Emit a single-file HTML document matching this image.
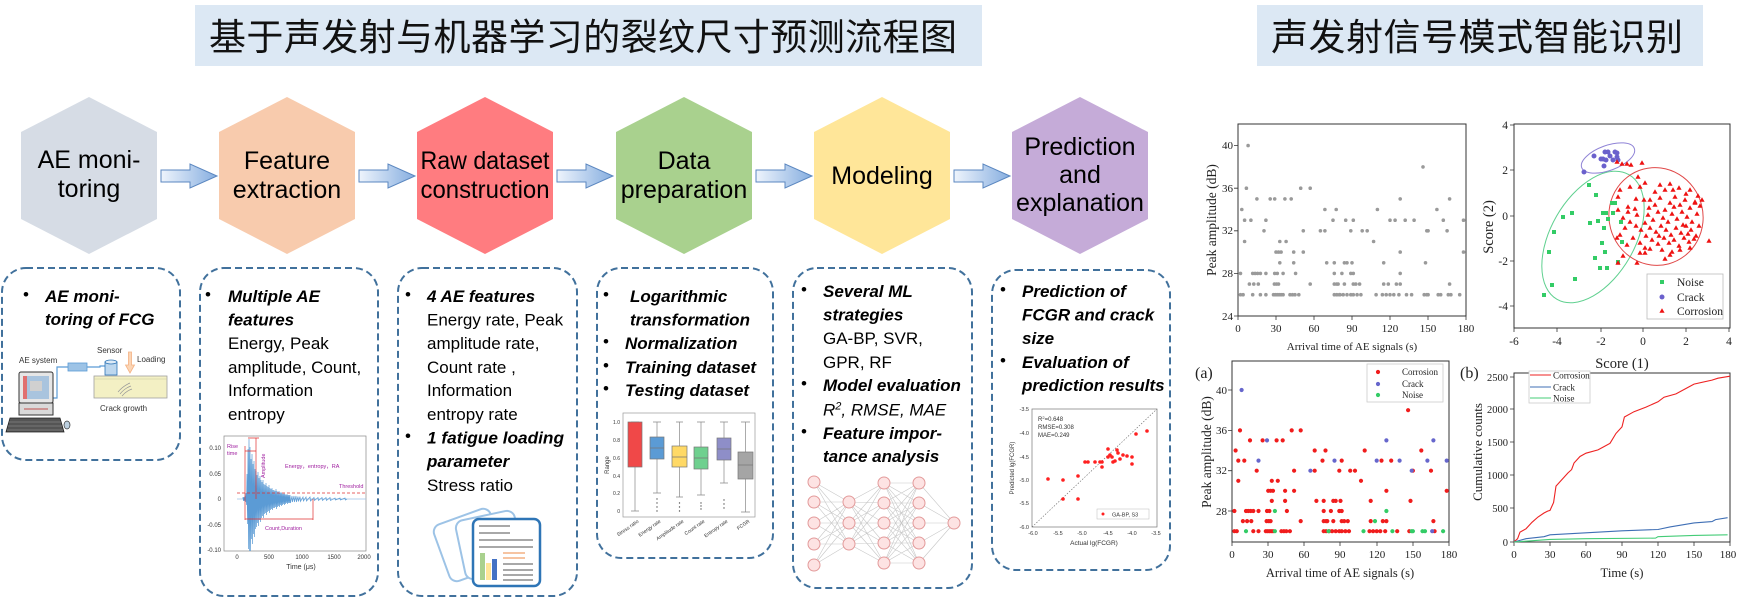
<!DOCTYPE html>
<html><head><meta charset="utf-8"><style>
html,body{margin:0;padding:0;background:#fff;}
svg{display:block;}
.hx{font-family:"Liberation Sans",sans-serif;font-size:25px;fill:#000;text-anchor:middle;}
.bt{font-family:"Liberation Sans",sans-serif;font-size:17px;fill:#000;}
.bi{font-weight:bold;font-style:italic;}
.sf{font-family:"Liberation Serif",serif;fill:#222;}
.sm{font-family:"Liberation Sans",sans-serif;fill:#333;}
</style></head><body>
<svg width="1740" height="599" viewBox="0 0 1740 599" xmlns="http://www.w3.org/2000/svg">
<defs>
<linearGradient id="ag" x1="0" y1="0" x2="1" y2="0"><stop offset="0" stop-color="#eef4fc"/><stop offset="1" stop-color="#86aee0"/></linearGradient>
</defs>
<rect width="1740" height="599" fill="#fff"/>

<!-- Titles -->
<rect x="195" y="5" width="787" height="61" fill="#dce8f4"/>
<text x="209" y="50" font-family="'Liberation Sans','Noto Sans CJK SC',sans-serif" font-size="37" fill="#111" textLength="748" lengthAdjust="spacing">基于声发射与机器学习的裂纹尺寸预测流程图</text>
<rect x="1257" y="5" width="446" height="61" fill="#dce8f4"/>
<text x="1271" y="50" font-family="'Liberation Sans','Noto Sans CJK SC',sans-serif" font-size="37" fill="#111" textLength="412" lengthAdjust="spacing">声发射信号模式智能识别</text>

<!-- Hexagons -->
<polygon points="89,97 157,132 157,219 89,254 21,219 21,132" fill="#d6dce5"/>
<polygon points="287,97 355,132 355,219 287,254 219,219 219,132" fill="#f8cbad"/>
<polygon points="485,97 553,132 553,219 485,254 417,219 417,132" fill="#ff7c80"/>
<polygon points="684,97 752,132 752,219 684,254 616,219 616,132" fill="#a9d18e"/>
<polygon points="882,97 950,132 950,219 882,254 814,219 814,132" fill="#ffe699"/>
<polygon points="1080,97 1148,132 1148,219 1080,254 1012,219 1012,132" fill="#c5abd8"/>

<text class="hx" x="89" y="168">AE moni-</text>
<text class="hx" x="89" y="197">toring</text>
<text class="hx" x="287" y="169">Feature</text>
<text class="hx" x="287" y="198">extraction</text>
<text class="hx" x="485" y="169" textLength="129" lengthAdjust="spacingAndGlyphs">Raw dataset</text>
<text class="hx" x="485" y="198" textLength="129" lengthAdjust="spacingAndGlyphs">construction</text>
<text class="hx" x="684" y="169">Data</text>
<text class="hx" x="684" y="198">preparation</text>
<text class="hx" x="882" y="184">Modeling</text>
<text class="hx" x="1080" y="155">Prediction</text>
<text class="hx" x="1080" y="183">and</text>
<text class="hx" x="1080" y="211">explanation</text>

<!-- Arrows -->
<g fill="url(#ag)" stroke="#5b87c0" stroke-width="1">
<path d="M161,170 H190 V164 L217,176 L190,188 V182 H161 Z"/>
<path d="M359,170 H388 V164 L415,176 L388,188 V182 H359 Z"/>
<path d="M557,170 H586 V164 L613,176 L586,188 V182 H557 Z"/>
<path d="M756,170 H785 V164 L812,176 L785,188 V182 H756 Z"/>
<path d="M954,170 H983 V164 L1010,176 L983,188 V182 H954 Z"/>
</g>

<!-- Dashed boxes -->
<g fill="none" stroke="#41719c" stroke-width="2" stroke-dasharray="7,4">
<rect x="2" y="268" width="178" height="192" rx="24"/>
<rect x="200" y="268" width="178" height="328" rx="24"/>
<rect x="398" y="268" width="179" height="328" rx="24"/>
<rect x="597" y="268" width="176" height="290" rx="24"/>
<rect x="793" y="268" width="179" height="320" rx="24"/>
<rect x="992" y="270" width="178" height="300" rx="24"/>
</g>

<!-- Box 1 text -->
<text class="bt" x="23" y="300">•</text>
<text class="bt bi" x="45" y="302">AE moni-</text>
<text class="bt bi" x="45" y="325">toring of FCG</text>
<!-- Box1 illustration -->
<g>
<text class="sm" x="19" y="363" font-size="8">AE system</text>
<text class="sm" x="97" y="353" font-size="8">Sensor</text>
<text class="sm" x="137" y="362" font-size="8">Loading</text>
<text class="sm" x="100" y="411" font-size="8">Crack growth</text>
<polyline points="53,398 57,398 57,367 68,367" fill="none" stroke="#5b9bd5" stroke-width="1.2"/>
<polyline points="87,367 100,367 100,366 105,366" fill="none" stroke="#5b9bd5" stroke-width="1.2"/>
<rect x="68" y="363" width="19" height="8" fill="#9dc3e6" stroke="#5b9bd5" stroke-width="0.8"/>
<rect x="94" y="376" width="73" height="22" fill="#f3f0c4" stroke="#a0a0a0" stroke-width="0.8"/>
<line x1="94" y1="379" x2="167" y2="379" stroke="#c9c69a" stroke-width="0.6"/>
<path d="M118,392 q5,-6 12,-9 M120,394 q5,-6 11,-8 M122,396 q4,-5 10,-7" fill="none" stroke="#999" stroke-width="0.7"/>
<rect x="105" y="362" width="12" height="13" fill="#bdd7ee" stroke="#2e75b6" stroke-width="0.8"/>
<ellipse cx="111" cy="362" rx="6" ry="2" fill="#deebf7" stroke="#2e75b6" stroke-width="0.8"/>
<path d="M128.5,352 h3 v13 h3 l-4.5,8 l-4.5,-8 h3 z" fill="#fbd5b5" stroke="#f4b183" stroke-width="0.8"/>
<rect x="19" y="372" width="34" height="31" rx="2" fill="#e6e6e6" stroke="#333" stroke-width="1"/>
<rect x="23" y="376" width="26" height="23" fill="#a9c4de"/>
<rect x="23" y="376" width="4" height="23" fill="#e07070"/>
<rect x="30" y="381" width="12" height="10" fill="#d0d0d0"/>
<rect x="19" y="403" width="34" height="12" fill="#d9d9d9" stroke="#333" stroke-width="1"/>
<line x1="24" y1="409" x2="48" y2="409" stroke="#c0504d" stroke-width="1"/>
<polygon points="10,418 60,418 64,432 6,432" fill="#555" stroke="#222" stroke-width="0.8"/>
<path d="M9,422 h52 M8,426 h54 M7,430 h56" stroke="#999" stroke-width="0.5"/>
<ellipse cx="67" cy="425" rx="3" ry="4" fill="#bcd0e0" stroke="#333" stroke-width="0.7"/>
</g>

<!-- Box 2 text -->
<text class="bt" x="205" y="300">•</text>
<text class="bt bi" x="228" y="302">Multiple AE</text>
<text class="bt bi" x="228" y="325.6">features</text>
<text class="bt" x="228" y="349">Energy, Peak</text>
<text class="bt" x="228" y="373">amplitude, Count,</text>
<text class="bt" x="228" y="396">Information</text>
<text class="bt" x="228" y="420">entropy</text>
<!-- waveform chart -->
<g>
<rect x="224" y="436" width="142" height="115" fill="#fff" stroke="#888" stroke-width="0.7"/>
<line x1="237" y1="499" x2="366" y2="499" stroke="#9dc3e6" stroke-width="0.8"/>
<path fill="none" stroke="#5b9bd5" stroke-width="0.7" d="M243,499 L243,497 L243.5,501 L244,497 L244.5,501 L245,496 L245.5,502 L246,493 L246.5,505 L247,474 L247.5,524 L248,449 L248.5,549 L249,439 L249.5,551 L250,447 L250.5,551 L251,459 L251.5,539 L252,454 L252.5,544 L253,464 L253.5,534 L254,461 L254.5,537 L255,469 L255.5,529 L256,471 L256.5,527 L257,475 L257.5,523 L258,472 L258.5,526 L259,478 L259.5,520 L260,476 L260.5,522 L261,480 L261.5,518 L262,482 L262.5,516 L263,480 L263.5,518 L264,484 L264.5,514 L265,485 L265.5,513 L266,483 L266.5,515 L267,486 L267.5,512 L268,487 L268.5,511 L269,485 L269.5,513 L270,488 L270.5,510 L271,489 L271.5,509 L272,488 L272.5,510 L273,490 L273.5,508 L274,490 L274.5,508 L275,491 L275.5,507 L276,489 L276.5,509 L277,491 L277.5,507 L278,492 L278.5,506 L279,491 L279.5,507 L280,493 L280.5,505 L281,492 L281.5,506 L282,493 L282.5,505 L283,494 L283.5,504 L284,493 L284.5,505 L285,494 L285.5,504 L286,495 L286.5,503 L287,494 L287.5,504 L288,495 L288.5,503 L289,495 L289.5,503 L290,495 L290.5,503 L292,496 L292.5,502 L294,496 L294.5,502 L296,496 L296.5,502 L298,496.5 L298.5,501.5 L300,496.5 L300.5,501.5 L303,497 L303.5,501 L306,497 L306.5,501 L310,497 L310.5,501 L314,497.5 L314.5,500.5 L318,497.5 L318.5,500.5 L322,497.5 L322.5,500.5 L326,497.5 L326.5,500.5 L330,497.5 L330.5,500.5 L335,498 L335.5,500 L340,498 L340.5,500 L345,498 L345.5,500 L347,499"/>
<line x1="237" y1="493" x2="366" y2="493" stroke="#e03030" stroke-width="0.7" stroke-dasharray="3,2"/>
<g stroke="#e03030" stroke-width="0.7" fill="none">
<path d="M245,446 V520 M256,438 V499 M248,438 H259 M245,451 H256 M245,519 H313 M313,499 V520"/>
</g>
<g font-family="'Liberation Sans','Noto Sans CJK SC',sans-serif" font-size="5.5" fill="#a020a0">
<text x="227" y="448">Rise</text><text x="227" y="455">time</text>
<text transform="translate(265,478) rotate(-90)">Amplitude</text>
<text x="285" y="468">Energy，entropy，RA</text>
<text x="339" y="488">Threshold</text>
<text x="265" y="530">Count,Duration</text>
</g>
<g class="sm" font-size="6" text-anchor="end">
<text x="221" y="450">0.10</text><text x="221" y="476">0.05</text><text x="221" y="501">0</text><text x="221" y="527">-0.05</text><text x="221" y="552">-0.10</text>
</g>
<g class="sm" font-size="6" text-anchor="middle">
<text x="237" y="559">0</text><text x="269" y="559">500</text><text x="302" y="559">1000</text><text x="334" y="559">1500</text><text x="364" y="559">2000</text>
<text x="301" y="569" font-size="7">Time (μs)</text>
</g>
</g>

<!-- Box 3 text -->
<text class="bt" x="405" y="300">•</text>
<text class="bt bi" x="427" y="302">4 AE features</text>
<text class="bt" x="427" y="325.6">Energy rate, Peak</text>
<text class="bt" x="427" y="349">amplitude rate,</text>
<text class="bt" x="427" y="373">Count rate ,</text>
<text class="bt" x="427" y="396">Information</text>
<text class="bt" x="427" y="420">entropy rate</text>
<text class="bt" x="405" y="441.5">•</text>
<text class="bt bi" x="427" y="443.5" textLength="137" lengthAdjust="spacingAndGlyphs">1 fatigue loading</text>
<text class="bt bi" x="427" y="467">parameter</text>
<text class="bt" x="427" y="491">Stress ratio</text>
<!-- doc icon -->
<rect x="-30" y="-30" width="60" height="60" rx="8" transform="translate(470,545) rotate(-20)" fill="#fff" stroke="#9dc3e6" stroke-width="2"/>
<rect x="-30" y="-30" width="60" height="60" rx="8" transform="translate(490,545) rotate(-12)" fill="#fff" stroke="#9dc3e6" stroke-width="2"/>
<rect x="473" y="519" width="67" height="67" rx="6" fill="#fff" stroke="#2e75b6" stroke-width="2.5"/>
<g stroke-width="1.6">
<path d="M479,526 H510 M479,533 H510 M479,540 H533 M479,547 H533" stroke="#8c8c8c"/>
<path d="M503,553 H525 M503,558 H525" stroke="#f4b183"/>
<path d="M503,564 H533 M503,570 H533 M503,575 H533 M503,580 H533" stroke="#8c8c8c"/>
</g>
<rect x="480" y="553" width="5" height="27" fill="#a9d18e"/>
<rect x="486" y="563" width="5" height="17" fill="#ffe699"/>
<rect x="492" y="559" width="5" height="21" fill="#4472c4"/>

<!-- Box 4 text -->
<text class="bt" x="603" y="300">•</text>
<text class="bt bi" x="630" y="302">Logarithmic</text>
<text class="bt bi" x="630" y="325.6">transformation</text>
<text class="bt" x="603" y="347">•</text>
<text class="bt bi" x="625" y="349">Normalization</text>
<text class="bt" x="603" y="371">•</text>
<text class="bt bi" x="625" y="373">Training dataset</text>
<text class="bt" x="603" y="394">•</text>
<text class="bt bi" x="625" y="396">Testing dataset</text>
<!-- boxplot -->
<g>
<rect x="623" y="413" width="132" height="104" fill="#fff" stroke="#999" stroke-width="0.7"/>
<g stroke="#888" stroke-width="0.7">
<path d="M635,467 V511 M631,511 H639 M631,422 H639"/>
<path d="M657,422 V437 M657,459 V493 M653,422 H661 M653,493 H661"/>
<path d="M679.5,422 V446 M679.5,467 V497 M676,422 H683 M676,497 H683"/>
<path d="M701,422 V447 M701,469 V495 M697,422 H705 M697,495 H705"/>
<path d="M724,422 V438 M724,460 V483 M720,422 H728 M720,483 H728"/>
<path d="M745.5,422 V452 M745.5,479 V512 M741,422 H750 M741,512 H750"/>
</g>
<g stroke="#777" stroke-width="0.7">
<rect x="628" y="422" width="14" height="45" fill="#f04848"/>
<rect x="650" y="437" width="14" height="22" fill="#5b9bd5"/>
<rect x="672" y="446" width="15" height="21" fill="#ffd966"/>
<rect x="694" y="447" width="14" height="22" fill="#6fd08f"/>
<rect x="717" y="438" width="14" height="22" fill="#8e8ec8"/>
<rect x="738" y="452" width="15" height="27" fill="#a5a5a5"/>
<path d="M650,448 H664 M672,457 H687 M694,458 H708 M717,449 H731 M738,465 H753" fill="none"/>
</g>
<path d="M657,499h0 M657,503h0 M657,507h0 M657,511h0 M679.5,503h0 M679.5,507h0 M679.5,511h0 M701,503h0 M701,506h0 M701,509h0 M724,500h0 M724,504h0 M724,508h0" stroke="#555" stroke-width="1.4" stroke-linecap="round"/>
<g class="sm" font-size="5" text-anchor="end">
<text x="620" y="424">1.0</text><text x="620" y="442">0.8</text><text x="620" y="460">0.6</text><text x="620" y="478">0.4</text><text x="620" y="495">0.2</text><text x="620" y="513">0</text>
</g>
<text class="sm" font-size="6" text-anchor="middle" transform="translate(609,465) rotate(-90)">Range</text>
<g class="sm" font-size="5" text-anchor="end">
<text transform="translate(639,522) rotate(-35)">Stress ratio</text>
<text transform="translate(661,522) rotate(-35)">Energy rate</text>
<text transform="translate(684,522) rotate(-35)">Amplitude rate</text>
<text transform="translate(705,522) rotate(-35)">Count rate</text>
<text transform="translate(728,522) rotate(-35)">Entropy rate</text>
<text transform="translate(750,522) rotate(-35)">FCGR</text>
</g>
</g>

<!-- Box 5 text -->
<text class="bt" x="801" y="295">•</text>
<text class="bt bi" x="823" y="297">Several ML</text>
<text class="bt bi" x="823" y="320.6">strategies</text>
<text class="bt" x="823" y="344">GA-BP, SVR,</text>
<text class="bt" x="823" y="368">GPR, RF</text>
<text class="bt" x="801" y="389">•</text>
<text class="bt bi" x="823" y="391">Model evaluation</text>
<text class="bt" x="823" y="415.7" font-style="italic">R<tspan dy="-6" font-size="11">2</tspan><tspan dy="6">, RMSE, MAE</tspan></text>
<text class="bt" x="801" y="437">•</text>
<text class="bt bi" x="823" y="439">Feature impor-</text>
<text class="bt bi" x="823" y="462">tance analysis</text>
<!-- neural net -->
<path fill="none" stroke="#c8c8c8" stroke-width="0.6" d="M814,482L849,502M814,482L849,523M814,482L849,544M814,502L849,502M814,502L849,523M814,502L849,544M814,523L849,502M814,523L849,523M814,523L849,544M814,544L849,502M814,544L849,523M814,544L849,544M814,565L849,502M814,565L849,523M814,565L849,544
M849,502L884,483M849,502L884,503M849,502L884,523M849,502L884,543M849,502L884,563M849,523L884,483M849,523L884,503M849,523L884,523M849,523L884,543M849,523L884,563M849,544L884,483M849,544L884,503M849,544L884,523M849,544L884,543M849,544L884,563
M884,483L919,483M884,483L919,503M884,483L919,523M884,483L919,543M884,483L919,563M884,503L919,483M884,503L919,503M884,503L919,523M884,503L919,543M884,503L919,563M884,523L919,483M884,523L919,503M884,523L919,523M884,523L919,543M884,523L919,563M884,543L919,483M884,543L919,503M884,543L919,523M884,543L919,543M884,543L919,563M884,563L919,483M884,563L919,503M884,563L919,523M884,563L919,543M884,563L919,563
M919,483L954,523M919,503L954,523M919,523L954,523M919,543L954,523M919,563L954,523"/>
<g fill="#fde3e3" stroke="#e39a9a" stroke-width="1">
<circle cx="814" cy="482" r="6"/><circle cx="814" cy="502" r="6"/><circle cx="814" cy="523" r="6"/><circle cx="814" cy="544" r="6"/><circle cx="814" cy="565" r="6"/>
<circle cx="849" cy="502" r="6"/><circle cx="849" cy="523" r="6"/><circle cx="849" cy="544" r="6"/>
<circle cx="884" cy="483" r="6"/><circle cx="884" cy="503" r="6"/><circle cx="884" cy="523" r="6"/><circle cx="884" cy="543" r="6"/><circle cx="884" cy="563" r="6"/>
<circle cx="919" cy="483" r="6"/><circle cx="919" cy="503" r="6"/><circle cx="919" cy="523" r="6"/><circle cx="919" cy="543" r="6"/><circle cx="919" cy="563" r="6"/>
<circle cx="954" cy="523" r="6"/>
</g>

<!-- Box 6 text -->
<text class="bt" x="1000" y="295">•</text>
<text class="bt bi" x="1022" y="297">Prediction of</text>
<text class="bt bi" x="1022" y="320.6">FCGR and crack</text>
<text class="bt bi" x="1022" y="344">size</text>
<text class="bt" x="1000" y="366">•</text>
<text class="bt bi" x="1022" y="368">Evaluation of</text>
<text class="bt bi" x="1022" y="391">prediction results</text>
<!-- prediction scatter -->
<g>
<rect x="1032" y="409" width="125" height="118" fill="#fff" stroke="#777" stroke-width="0.7"/>
<line x1="1032" y1="527" x2="1157" y2="409" stroke="#666" stroke-width="0.6" stroke-dasharray="1.5,1.5"/>
<path stroke="#ff2020" stroke-width="3.6" stroke-linecap="round" d="M1048,479h0M1063,480h0M1063,499h0M1078,476h0M1078,499h0M1085,462h0M1088,462h0M1095,462h0M1102,462h0M1102,467h0M1108,449h0M1108,457h0M1112,457h0M1113,462h0M1115,461h0M1117,450h0M1118,453h0M1120,459h0M1127,456h0M1132,457h0M1132,464h0M1136,434h0M1147,431h0M1100,462h0M1110,455h0M1123,455h0"/>
<g class="sm" font-size="6">
<text x="1038" y="421">R<tspan dy="-2" font-size="4">2</tspan><tspan dy="2">=0.648</tspan></text>
<text x="1038" y="429">RMSE=0.308</text>
<text x="1038" y="437">MAE=0.249</text>
</g>
<rect x="1097" y="509" width="52" height="10" fill="#fff" stroke="#bbb" stroke-width="0.5"/>
<path d="M1103,514h0" stroke="#ff2020" stroke-width="3" stroke-linecap="round"/>
<text class="sm" x="1112" y="516.5" font-size="5.5">GA-BP, S3</text>
<g class="sm" font-size="5.5" text-anchor="end">
<text x="1029" y="411">-3.5</text><text x="1029" y="435">-4.0</text><text x="1029" y="459">-4.5</text><text x="1029" y="482">-5.0</text><text x="1029" y="505">-5.5</text><text x="1029" y="529">-6.0</text>
</g>
<g class="sm" font-size="5.5" text-anchor="middle">
<text x="1033" y="535">-6.0</text><text x="1058" y="535">-5.5</text><text x="1082" y="535">-5.0</text><text x="1108" y="535">-4.5</text><text x="1132" y="535">-4.0</text><text x="1156" y="535">-3.5</text>
<text x="1094" y="545" font-size="6.5">Actual lg(FCGR)</text>
</g>
<text class="sm" font-size="6" text-anchor="middle" transform="translate(1014,468) rotate(-90)">Predicted lg(FCGR)</text>
</g>

<!-- ===== Right charts ===== -->
<!-- Gray scatter -->
<g>
<rect x="1238" y="124" width="228" height="192" fill="none" stroke="#333" stroke-width="1"/>
<path stroke="#333" stroke-width="0.8" d="M1234,145.6H1238M1234,188.2H1238M1234,230.8H1238M1234,273.4H1238M1234,316H1238M1238,316V320M1276,316V320M1314,316V320M1352,316V320M1390,316V320M1428,316V320M1466,316V320"/>
<g class="sf" font-size="11" text-anchor="end">
<text x="1233" y="149">40</text><text x="1233" y="192">36</text><text x="1233" y="234">32</text><text x="1233" y="277">28</text><text x="1233" y="320">24</text>
</g>
<g class="sf" font-size="11" text-anchor="middle">
<text x="1238" y="332">0</text><text x="1276" y="332">30</text><text x="1314" y="332">60</text><text x="1352" y="332">90</text><text x="1390" y="332">120</text><text x="1428" y="332">150</text><text x="1466" y="332">180</text>
<text x="1352" y="350">Arrival time of AE signals (s)</text>
</g>
<text class="sf" font-size="13.5" text-anchor="middle" transform="translate(1216,220) rotate(-90)">Peak amplitude (dB)</text>
<path stroke="#9a9a9a" stroke-width="3.6" stroke-linecap="round" d="M1248.1,145.6h0M1423,166.9h0M1246.4,188.2h0M1300.7,188.2h0M1310.2,188.2h0
M1256.9,198.9h0M1270.2,198.9h0M1274.7,198.9h0M1284.9,198.9h0M1291.2,198.9h0M1400.2,198.9h0M1449.6,198.9h0
M1241.8,209.5h0M1324.9,209.5h0M1336.2,209.5h0M1377.4,209.5h0M1436.9,209.5h0
M1244.6,220.2h0M1250.9,220.2h0M1265.9,220.2h0M1333,220.2h0M1345.7,220.2h0M1353.3,220.2h0M1390,220.2h0M1395.1,220.2h0M1405.2,220.2h0M1414.1,220.2h0M1443.3,220.2h0M1463.5,220.2h0
M1264,230.8h0M1303.3,230.8h0M1320.4,230.8h0M1324.9,230.8h0M1350.8,230.8h0M1362.2,230.8h0M1367.2,230.8h0M1426.8,230.8h0M1428.1,230.8h0M1447.1,230.8h0
M1244.6,241.5h0M1279.8,241.5h0M1286.1,241.5h0M1373.6,241.5h0
M1276,252.1h0M1278.5,252.1h0M1281.1,252.1h0M1293.7,252.1h0M1303.3,252.1h0M1400.2,252.1h0M1463.5,252.1h0
M1279.8,262.8h0M1293.7,262.8h0M1326.7,262.8h0M1334.3,262.8h0M1344.4,262.8h0M1347,262.8h0M1352,262.8h0M1383.7,262.8h0M1425.5,262.8h0
M1240.5,273.4h0M1252.7,273.4h0M1255.1,273.4h0M1257.6,273.4h0M1260.4,273.4h0M1265.9,273.4h0M1274.7,273.4h0M1277.3,273.4h0M1283.1,273.4h0M1295.6,273.4h0M1334.3,273.4h0M1341.9,273.4h0M1350.8,273.4h0M1353.3,273.4h0M1400.2,273.4h0
M1249.4,284.1h0M1253.8,284.1h0M1258.3,284.1h0M1274.4,284.1h0M1276.6,284.1h0M1278.5,284.1h0M1310.2,284.1h0M1334.3,284.1h0M1336.8,284.1h0M1338.1,284.1h0M1344.4,284.1h0M1353.3,284.1h0M1355.8,284.1h0M1359.6,284.1h0M1383.7,284.1h0M1388.3,284.1h0M1396.4,284.1h0M1400.2,284.1h0M1449.6,284.1h0
M1240.5,294.7h0M1243.1,294.7h0M1252.7,294.7h0M1260.4,294.7h0M1265.9,294.7h0M1273.5,294.7h0M1275.4,294.7h0M1277.3,294.7h0M1279.2,294.7h0M1281.1,294.7h0M1283.1,294.7h0M1290,294.7h0M1292.5,294.7h0M1295,294.7h0M1298.8,294.7h0M1334.3,294.7h0M1336.8,294.7h0M1339.4,294.7h0M1340,294.7h0M1343.2,294.7h0M1347,294.7h0M1350.8,294.7h0M1353.3,294.7h0M1357.1,294.7h0M1360.9,294.7h0M1376.1,294.7h0M1382.4,294.7h0M1386.2,294.7h0M1390,294.7h0M1393.8,294.7h0M1398.9,294.7h0M1406.5,294.7h0M1411.6,294.7h0M1424.2,294.7h0M1426.8,294.7h0M1428.1,294.7h0M1438.2,294.7h0M1440.7,294.7h0M1448.3,294.7h0M1450.9,294.7h0M1459.7,294.7h0"/>
</g>

<!-- Score chart -->
<g>
<rect x="1514" y="124" width="216" height="204" fill="none" stroke="#333" stroke-width="1"/>
<path stroke="#333" stroke-width="0.8" d="M1510,125H1514M1510,170H1514M1510,216H1514M1510,261H1514M1510,306H1514M1514,328V332M1557,328V332M1601,328V332M1643,328V332M1686,328V332M1729,328V332"/>
<g class="sf" font-size="11.5" text-anchor="end">
<text x="1508" y="129">4</text><text x="1508" y="174">2</text><text x="1508" y="220">0</text><text x="1508" y="265">-2</text><text x="1508" y="310">-4</text>
</g>
<g class="sf" font-size="11.5" text-anchor="middle">
<text x="1514" y="345">-6</text><text x="1557" y="345">-4</text><text x="1601" y="345">-2</text><text x="1643" y="345">0</text><text x="1686" y="345">2</text><text x="1729" y="345">4</text>
<text x="1622" y="368" font-size="14.5">Score (1)</text>
</g>
<text class="sf" font-size="14.5" text-anchor="middle" transform="translate(1493,227) rotate(-90)">Score (2)</text>
<ellipse cx="1608" cy="158" rx="28" ry="12.5" transform="rotate(-20 1608 158)" fill="none" stroke="#8f83d6" stroke-width="1"/>
<ellipse cx="1593" cy="237" rx="42" ry="72" transform="rotate(30 1593 237)" fill="none" stroke="#5fd08f" stroke-width="1"/>
<ellipse cx="1656" cy="216.5" rx="47" ry="49" transform="rotate(-15 1656 216.5)" fill="none" stroke="#e04848" stroke-width="1"/>
<path fill="#33cc66" d="M1542,293h4v4h-4zM1550,283h4v4h-4zM1547,250h4v4h-4zM1552,230h4v4h-4zM1561,215h4v4h-4zM1570,211h4v4h-4zM1573,277h4v4h-4zM1587,183h4v4h-4zM1594,193h4v4h-4zM1588,221h4v4h-4zM1596,219h4v4h-4zM1601,211h4v4h-4zM1604,211h4v4h-4zM1602,226h4v4h-4zM1600,241h4v4h-4zM1603,250h4v4h-4zM1593,256h4v4h-4zM1598,266h4v4h-4zM1605,266h4v4h-4zM1610,201h4v4h-4zM1613,201h4v4h-4zM1606,217h4v4h-4zM1619,220h4v4h-4zM1620,240h4v4h-4zM1616,260h4v4h-4zM1611,211h4v4h-4z"/>
<path stroke="#6a60cc" stroke-width="5" stroke-linecap="round" d="M1584,172h0M1594,156h0M1601,159h0M1603,159h0M1604,166h0M1605,152h0M1608,152h0M1613,160h0M1615,152h0M1617,153h0M1617,157h0M1618,160h0M1610,156h0M1606,160h0"/>
<path fill="#ee1111" d="M1650,197.2l2.6,4.6h-5.2zM1655,202.2l2.6,4.6h-5.2zM1660,195.2l2.6,4.6h-5.2zM1665,207.2l2.6,4.6h-5.2zM1670,200.2l2.6,4.6h-5.2zM1675,194.2l2.6,4.6h-5.2zM1680,202.2l2.6,4.6h-5.2zM1685,197.2l2.6,4.6h-5.2zM1690,205.2l2.6,4.6h-5.2zM1695,199.2l2.6,4.6h-5.2zM1700,203.2l2.6,4.6h-5.2z
M1648,212.2l2.6,4.6h-5.2zM1653,217.2l2.6,4.6h-5.2zM1658,209.2l2.6,4.6h-5.2zM1663,215.2l2.6,4.6h-5.2zM1668,219.2l2.6,4.6h-5.2zM1672,211.2l2.6,4.6h-5.2zM1677,216.2l2.6,4.6h-5.2zM1682,209.2l2.6,4.6h-5.2zM1687,214.2l2.6,4.6h-5.2zM1692,219.2l2.6,4.6h-5.2zM1697,211.2l2.6,4.6h-5.2z
M1650,225.2l2.6,4.6h-5.2zM1656,229.2l2.6,4.6h-5.2zM1661,223.2l2.6,4.6h-5.2zM1666,227.2l2.6,4.6h-5.2zM1671,232.2l2.6,4.6h-5.2zM1676,225.2l2.6,4.6h-5.2zM1681,230.2l2.6,4.6h-5.2zM1686,223.2l2.6,4.6h-5.2zM1691,227.2l2.6,4.6h-5.2zM1696,233.2l2.6,4.6h-5.2z
M1652,237.2l2.6,4.6h-5.2zM1658,241.2l2.6,4.6h-5.2zM1664,235.2l2.6,4.6h-5.2zM1669,240.2l2.6,4.6h-5.2zM1674,237.2l2.6,4.6h-5.2zM1679,243.2l2.6,4.6h-5.2zM1684,235.2l2.6,4.6h-5.2zM1689,239.2l2.6,4.6h-5.2zM1694,236.2l2.6,4.6h-5.2z
M1662,247.2l2.6,4.6h-5.2zM1672,249.2l2.6,4.6h-5.2zM1680,247.2l2.6,4.6h-5.2zM1690,245.2l2.6,4.6h-5.2z
M1645,220.2l2.6,4.6h-5.2zM1641,227.2l2.6,4.6h-5.2zM1636,223.2l2.6,4.6h-5.2zM1630,219.2l2.6,4.6h-5.2zM1625,225.2l2.6,4.6h-5.2zM1620,232.2l2.6,4.6h-5.2zM1633,235.2l2.6,4.6h-5.2zM1627,242.2l2.6,4.6h-5.2zM1640,240.2l2.6,4.6h-5.2zM1645,245.2l2.6,4.6h-5.2zM1637,212.2l2.6,4.6h-5.2zM1628,209.2l2.6,4.6h-5.2zM1623,215.2l2.6,4.6h-5.2zM1618,207.2l2.6,4.6h-5.2z
M1642,160.2l2.6,4.6h-5.2zM1617,159.2l2.6,4.6h-5.2zM1622,161.2l2.6,4.6h-5.2zM1627,161.2l2.6,4.6h-5.2zM1631,162.2l2.6,4.6h-5.2zM1638,174.2l2.6,4.6h-5.2zM1640,184.2l2.6,4.6h-5.2zM1630,184.2l2.6,4.6h-5.2zM1645,180.2l2.6,4.6h-5.2zM1618,194.2l2.6,4.6h-5.2zM1620,187.2l2.6,4.6h-5.2zM1636,196.2l2.6,4.6h-5.2zM1628,204.2l2.6,4.6h-5.2zM1635,206.2l2.6,4.6h-5.2zM1617,235.2l2.6,4.6h-5.2zM1618,260.2l2.6,4.6h-5.2zM1623,253.2l2.6,4.6h-5.2zM1637,260.2l2.6,4.6h-5.2zM1640,250.2l2.6,4.6h-5.2zM1645,250.2l2.6,4.6h-5.2zM1650,246.2l2.6,4.6h-5.2zM1665,256.2l2.6,4.6h-5.2zM1670,252.2l2.6,4.6h-5.2zM1660,182.2l2.6,4.6h-5.2zM1670,181.2l2.6,4.6h-5.2zM1673,187.2l2.6,4.6h-5.2zM1686,191.2l2.6,4.6h-5.2zM1695,200.2l2.6,4.6h-5.2zM1698,193.2l2.6,4.6h-5.2zM1702,197.2l2.6,4.6h-5.2zM1709,238.2l2.6,4.6h-5.2zM1655,189.2l2.6,4.6h-5.2zM1665,187.2l2.6,4.6h-5.2zM1679,185.2l2.6,4.6h-5.2zM1690,187.2l2.6,4.6h-5.2zM1683,222.2l2.6,4.6h-5.2zM1674,204.2l2.6,4.6h-5.2zM1659,233.2l2.6,4.6h-5.2zM1688,231.2l2.6,4.6h-5.2zM1699,223.2l2.6,4.6h-5.2zM1649,205.2l2.6,4.6h-5.2zM1644,197.2l2.6,4.6h-5.2zM1646,233.2l2.6,4.6h-5.2z"/>
<rect x="1647" y="274" width="76" height="45" fill="#fff" stroke="#bbb" stroke-width="0.8"/>
<rect x="1660" y="280" width="4" height="4" fill="#33cc66"/>
<path d="M1662,297h0" stroke="#6a60cc" stroke-width="5" stroke-linecap="round"/>
<path d="M1662,308.2l2.6,4.6h-5.2z" fill="#ee1111"/>
<g class="sf" font-size="11.5">
<text x="1677" y="286">Noise</text><text x="1677" y="301">Crack</text><text x="1677" y="315">Corrosion</text>
</g>
</g>

<!-- (a) chart -->
<g>
<rect x="1232" y="361" width="217" height="181" fill="none" stroke="#333" stroke-width="1"/>
<path stroke="#333" stroke-width="0.8" d="M1228,390H1232M1228,430.4H1232M1228,470.7H1232M1228,511H1232M1232,542V546M1268,542V546M1304,542V546M1340,542V546M1377,542V546M1413,542V546M1449,542V546"/>
<g class="sf" font-size="11" text-anchor="end">
<text x="1227" y="394">40</text><text x="1227" y="434">36</text><text x="1227" y="474">32</text><text x="1227" y="515">28</text>
</g>
<g class="sf" font-size="11" text-anchor="middle">
<text x="1232" y="558">0</text><text x="1268" y="558">30</text><text x="1304" y="558">60</text><text x="1340" y="558">90</text><text x="1377" y="558">120</text><text x="1413" y="558">150</text><text x="1449" y="558">180</text>
<text x="1340" y="577" font-size="12.5">Arrival time of AE signals (s)</text>
</g>
<text class="sf" x="1195" y="378" font-size="16">(a)</text>
<text class="sf" font-size="13.5" text-anchor="middle" transform="translate(1211,452) rotate(-90)">Peak amplitude (dB)</text>
<path stroke="#f01c1c" stroke-width="4.2" stroke-linecap="round" d="M1408.1,410.2h0M1240,430.4h0M1291.7,430.4h0M1300.7,430.4h0
M1250,440.4h0M1262.6,440.4h0M1276.6,440.4h0M1282.7,440.4h0
M1235.6,450.5h0M1314.7,450.5h0M1325.5,450.5h0M1364.7,450.5h0M1421.3,450.5h0
M1238.3,460.6h0M1244.3,460.6h0M1322.5,460.6h0M1341.7,460.6h0M1381.5,460.6h0M1391.2,460.6h0
M1256.7,470.7h0M1294.1,470.7h0M1314.7,470.7h0M1339.3,470.7h0M1350.2,470.7h0M1355,470.7h0M1412.9,470.7h0M1431,470.7h0
M1238.3,480.8h0M1271.8,480.8h0M1277.8,480.8h0M1361,480.8h0
M1268.2,490.8h0M1270.6,490.8h0M1273,490.8h0M1285.1,490.8h0M1294.1,490.8h0M1386.4,490.8h0M1446.7,490.8h0
M1271.8,500.9h0M1285.1,500.9h0M1316.4,500.9h0M1323.7,500.9h0M1333.3,500.9h0M1335.7,500.9h0M1340.5,500.9h0M1370.7,500.9h0M1410.5,500.9h0
M1234.4,511h0M1246,511h0M1248.3,511h0M1250.7,511h0M1253.3,511h0M1258.5,511h0M1267,511h0M1269.4,511h0M1286.9,511h0M1323.7,511h0M1330.9,511h0M1339.3,511h0M1341.7,511h0
M1242.9,521.1h0M1247.1,521.1h0M1251.3,521.1h0M1266.6,521.1h0M1268.8,521.1h0M1270.6,521.1h0M1300.7,521.1h0M1323.7,521.1h0M1326.1,521.1h0M1327.3,521.1h0M1333.3,521.1h0M1341.7,521.1h0M1344.2,521.1h0M1347.8,521.1h0M1370.7,521.1h0M1382.8,521.1h0M1386.4,521.1h0M1433.4,521.1h0
M1234.4,531.2h0M1236.8,531.2h0M1253.3,531.2h0M1258.5,531.2h0M1265.8,531.2h0M1267.6,531.2h0M1269.4,531.2h0M1271.2,531.2h0M1273,531.2h0M1281.4,531.2h0M1283.9,531.2h0M1286.3,531.2h0M1289.9,531.2h0M1323.7,531.2h0M1326.1,531.2h0M1329.1,531.2h0M1332.1,531.2h0M1335.7,531.2h0M1339.3,531.2h0M1341.7,531.2h0M1345.4,531.2h0M1349,531.2h0M1369.5,531.2h0M1373.1,531.2h0M1376.7,531.2h0M1380.3,531.2h0M1385.2,531.2h0M1397.2,531.2h0M1409.3,531.2h0M1434.6,531.2h0"/>
<path stroke="#6666cc" stroke-width="4.2" stroke-linecap="round" d="M1241.6,390h0M1267,440.4h0M1258.5,460.6h0M1310.4,470.7h0M1334.5,460.6h0M1376.7,460.6h0M1386.4,440.4h0M1399.6,460.6h0M1411.7,470.7h0M1427.4,460.6h0M1433.4,440.4h0M1446.7,460.6h0M1432.2,531.2h0"/>
<path stroke="#33cc66" stroke-width="4.2" stroke-linecap="round" d="M1246,531.2h0M1274.9,511h0M1274.9,531.2h0M1328.5,531.2h0M1363.5,531.2h0M1375,521.1h0M1386.4,511h0M1392.4,531.2h0M1411.7,531.2h0M1412.9,531.2h0M1422.5,531.2h0M1425,531.2h0M1443.1,531.2h0"/>
<rect x="1367" y="364" width="76" height="38" fill="#fff" stroke="#ccc" stroke-width="0.8"/>
<path d="M1378,372h0" stroke="#f01c1c" stroke-width="4.2" stroke-linecap="round"/>
<path d="M1378,384h0" stroke="#6666cc" stroke-width="4.2" stroke-linecap="round"/>
<path d="M1378,395h0" stroke="#33cc66" stroke-width="4.2" stroke-linecap="round"/>
<g class="sf" font-size="9">
<text x="1402" y="375">Corrosion</text><text x="1402" y="387">Crack</text><text x="1402" y="398">Noise</text>
</g>
</g>

<!-- (b) chart -->
<g>
<rect x="1514" y="373" width="216" height="169" fill="none" stroke="#333" stroke-width="1"/>
<path stroke="#333" stroke-width="0.8" d="M1510,377H1514M1510,409H1514M1510,442H1514M1510,475H1514M1510,508H1514M1510,542H1514M1514,542V546M1550,542V546M1586,542V546M1622,542V546M1658,542V546M1694,542V546M1730,542V546"/>
<g class="sf" font-size="10.5" text-anchor="end">
<text x="1508" y="381">2500</text><text x="1508" y="413">2000</text><text x="1508" y="446">1500</text><text x="1508" y="479">1000</text><text x="1508" y="512">500</text><text x="1508" y="546">0</text>
</g>
<g class="sf" font-size="11" text-anchor="middle">
<text x="1514" y="558">0</text><text x="1550" y="558">30</text><text x="1586" y="558">60</text><text x="1622" y="558">90</text><text x="1658" y="558">120</text><text x="1694" y="558">150</text><text x="1728" y="558">180</text>
<text x="1622" y="577" font-size="12.7">Time (s)</text>
</g>
<text class="sf" x="1460" y="378" font-size="16">(b)</text>
<text class="sf" font-size="13" text-anchor="middle" transform="translate(1482,452) rotate(-90)">Cumulative counts</text>
<polyline fill="none" stroke="#ee2222" stroke-width="1.1" points="1514,542 1517.6,538.7 1520,532.1 1526,528.8 1532,522.3 1538,517 1544,513 1547.6,511.1 1550,510.4 1553.6,502.5 1556,486.1 1562,479.5 1568,472.9 1571.6,469.6 1574,463 1580,456.5 1586,453.2 1598,449.9 1604,446.6 1610,443.3 1616,433.4 1622,426.9 1624.4,417 1634,411.7 1646,407.1 1658,401.8 1664,397.2 1676,393.9 1688,387.4 1694,384.1 1712,380.1 1718,378.2 1730,376.2"/>
<polyline fill="none" stroke="#3f6fb5" stroke-width="1.1" points="1514,542 1526,538.7 1544,536.7 1550,534.8 1586,532.8 1622,530.8 1658,529.5 1670,526.9 1694,522.9 1712,521.6 1715.6,519.6 1727.6,517.7"/>
<polyline fill="none" stroke="#44cc77" stroke-width="1.1" points="1514,542 1550,539.4 1586,538.7 1655.6,538.1 1658,536.7 1694,535.4 1727.6,534.8"/>
<rect x="1529" y="371" width="61" height="32" fill="#fff" stroke="#ccc" stroke-width="0.8"/>
<path d="M1530,375H1551" stroke="#ee2222" stroke-width="1.1"/>
<path d="M1530,387H1551" stroke="#3f6fb5" stroke-width="1.1"/>
<path d="M1530,398H1551" stroke="#44cc77" stroke-width="1.1"/>
<g class="sf" font-size="9.2">
<text x="1553" y="378.5">Corrosion</text><text x="1553" y="390.5">Crack</text><text x="1553" y="401.5">Noise</text>
</g>
</g>
</svg>
</body></html>
